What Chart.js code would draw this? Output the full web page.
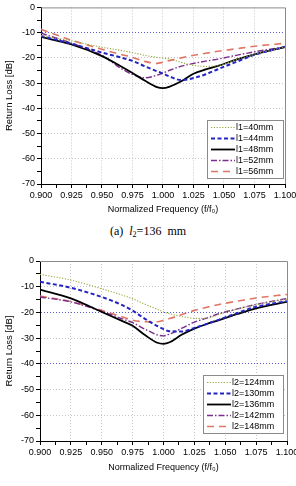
<!DOCTYPE html>
<html><head><meta charset="utf-8">
<script src="https://cdn.jsdelivr.net/npm/chart.js@4"></script>
<style>
html,body{margin:0;padding:0;background:#fff;width:296px;height:486px;overflow:hidden;position:relative;}
.wrap{position:absolute;left:0;width:310px;}
#w1{top:0;height:220px;}
#w2{top:248px;height:228px;}
.cap{position:absolute;left:0;width:296px;text-align:center;font-family:"Liberation Serif",serif;font-size:12px;line-height:14px;color:#000;white-space:pre;}
.cap sub{font-size:8px;vertical-align:-2px;line-height:0;}
</style></head><body>
<div class="wrap" id="w1"><canvas id="c1" width="310" height="220"></canvas></div>
<div class="cap" style="top:224px">(a)  <i>l</i><sub>2</sub>=136  mm</div>
<div class="wrap" id="w2"><canvas id="c2" width="310" height="228"></canvas></div>
<div class="cap" style="top:484px">(b)  <i>l</i><sub>1</sub>=48  mm</div>
<script>
// ---------- data ----------
const freq = [0.900,0.925,0.950,0.965,0.975,0.985,0.995,1.000,1.005,1.015,1.025,1.035,1.045,1.060,1.075,1.100];

const labelsA = ['l1=40mm','l1=44mm','l1=48mm','l1=52mm','l1=56mm'];
const a40 = [-11.2,-13.3,-15.8,-17.0,-17.9,-19.0,-19.8,-20.1,-20.4,-21.8,-23.0,-23.4,-23.1,-20.7,-18.6,-15.7];
const a44 = [-11.3,-14.4,-17.9,-19.8,-21.2,-23.3,-25.3,-26.2,-27.3,-28.8,-28.0,-26.5,-24.5,-21.6,-18.8,-15.6];
const a48 = [-11.7,-14.7,-19.3,-23.2,-26.0,-29.0,-31.6,-32.0,-31.5,-29.3,-26.3,-24.6,-23.2,-20.7,-18.6,-15.7];
const a52 = [-10.2,-14.2,-19.0,-24.0,-26.6,-27.9,-26.9,-26.0,-25.0,-23.3,-22.2,-21.3,-20.5,-19.0,-17.6,-15.7];
const a56 = [-8.7,-13.0,-16.6,-18.6,-19.8,-21.4,-22.2,-21.7,-21.1,-20.0,-19.0,-18.2,-17.4,-16.4,-15.4,-14.2];

const labelsB = ['l2=124mm','l2=130mm','l2=136mm','l2=142mm','l2=148mm'];
const b124 = [-5.2,-7.4,-10.8,-13.0,-14.7,-16.8,-18.8,-19.8,-20.5,-21.6,-22.3,-22.3,-20.7,-18.7,-17.0,-14.8];
const b130 = [-8.1,-10.4,-14.0,-16.8,-19.3,-22.5,-25.3,-26.5,-27.3,-27.4,-26.0,-24.5,-22.8,-20.2,-17.8,-15.6];
const b136 = [-11.1,-14.5,-19.8,-23.0,-25.2,-28.8,-31.8,-32.2,-31.6,-28.6,-26.3,-24.5,-23.0,-20.6,-18.4,-15.9];
const b142 = [-14.0,-15.9,-19.6,-22.2,-24.0,-26.5,-28.7,-29.1,-28.4,-26.1,-23.8,-22.2,-20.5,-18.6,-16.9,-14.6];
const b148 = [-13.6,-15.8,-19.2,-21.5,-23.0,-23.6,-23.6,-23.1,-22.4,-20.8,-19.2,-18.0,-16.9,-15.6,-14.4,-13.0];

const xTickLabels = ['0.900','0.925','0.950','0.975','1.000','1.025','1.050','1.075','1.100'];
const yTickLabels = ['-70','-60','-50','-40','-30','-20','-10','0'];
const refA = [-10];
const refB = [-20,-40];

// ---------- styles ----------
const styles = [
  {color:'#97a83e', dash:[1.2,1.6], width:1.1},
  {color:'#2424c4', dash:[4,2.5], width:2},
  {color:'#000000', dash:[], width:1.8},
  {color:'#7c2c8c', dash:[6,2,1.5,2], width:1.4},
  {color:'#e07666', dash:[7,5], width:1.6}
];
const FONT = '"Liberation Sans", Arial, sans-serif';

const xMajor = xTickLabels.map(Number);
const xAll = [];
xMajor.forEach((v,i)=>{ xAll.push(v); if(i<xMajor.length-1) xAll.push((v+xMajor[i+1])/2); });
const yMajor = yTickLabels.map(Number);
const yAll = [];
yMajor.forEach((v,i)=>{ yAll.push(v); if(i<yMajor.length-1) yAll.push((v+yMajor[i+1])/2); });

const framePlugin = {
  id:'frame',
  afterDraw(chart){
    const {ctx, chartArea:ca} = chart;
    ctx.save();
    ctx.strokeStyle='#8a8a8a'; ctx.lineWidth=1;
    ctx.beginPath();
    ctx.moveTo(ca.left, ca.top+0.5); ctx.lineTo(ca.right+0.5, ca.top+0.5); ctx.lineTo(ca.right+0.5, ca.bottom);
    ctx.stroke();
    ctx.restore();
  }
};
const boxLegend = {
  id:'boxLegend',
  afterDraw(chart, args, o){
    const {ctx, chartArea:ca} = chart;
    const x0 = Math.round(ca.right - o.dx - o.w), y0 = Math.round(ca.bottom - o.dy - o.h);
    ctx.save();
    ctx.fillStyle='#fff'; ctx.fillRect(x0,y0,o.w,o.h);
    ctx.strokeStyle='#8a8a8a'; ctx.lineWidth=1; ctx.strokeRect(x0+0.5,y0+0.5,o.w,o.h);
    ctx.font='9px '+FONT; ctx.textBaseline='middle'; ctx.textAlign='left';
    chart.data.datasets.forEach((ds,i)=>{
      const y = y0 + 7.5 + i*11;
      ctx.strokeStyle=ds.borderColor; ctx.lineWidth=ds.borderWidth; ctx.setLineDash(ds.borderDash||[]);
      ctx.beginPath(); ctx.moveTo(x0+4,y); ctx.lineTo(x0+28,y); ctx.stroke();
      ctx.setLineDash([]);
      ctx.fillStyle='#000';
      ctx.fillText(ds.label, x0+29, y);
    });
    ctx.restore();
  }
};

function makeChart(id, labels, series, cfg){
  const datasets = series.map((s,i)=>({
    label: labels[i],
    data: freq.map((f,j)=>({x:f, y:s[j]})),
    borderColor: styles[i].color,
    borderDash: styles[i].dash,
    borderWidth: styles[i].width,
    pointRadius: 0,
    fill: false,
    cubicInterpolationMode: 'monotone',
    tension: 0.4
  }));
  const isMajorX = v => xMajor.some(m=>Math.abs(m-v)<1e-9);
  const isMajorY = v => yMajor.some(m=>Math.abs(m-v)<1e-9);
  return new Chart(document.getElementById(id), {
    type:'line',
    data:{datasets},
    plugins:[framePlugin, boxLegend],
    options:{
      responsive:false, animation:false,
      layout:{padding:{left:0, top:cfg.top, right:cfg.right, bottom:0}},
      plugins:{legend:{display:false}, tooltip:{enabled:false},
        boxLegend:{w:cfg.lw, h:58, dx:cfg.ldx, dy:cfg.ldy}},
      scales:{
        x:{type:'linear', min:0.9, max:1.1,
          afterBuildTicks:s=>{ s.ticks = xAll.map(v=>({value:v})); },
          afterFit:s=>{ s.height = cfg.xh; },
          ticks:{autoSkip:false, maxRotation:0, minRotation:0, padding:2, color:'#000',
            font:{family:FONT, size:9},
            callback:(v)=>{ const k = xMajor.findIndex(m=>Math.abs(m-v)<1e-9); return k>=0 ? xTickLabels[k] : ''; }},
          grid:{
            color:c=>{ const v=c.tick?c.tick.value:null; if(v===null) return 'rgba(0,0,0,0)';
              if(!isMajorX(v) || Math.abs(v-0.9)<1e-9 || Math.abs(v-1.1)<1e-9) return 'rgba(0,0,0,0)'; return '#c4c4cc'; },
            tickColor:'#000', tickLength:4, lineWidth:1},
          border:{color:'#000', width:1, dash:[1,2]},
          title:{display:true, text:'Normalized Frequency (f/f\u2080)', color:'#000',
            font:{family:FONT, size:9}, padding:{top:0,bottom:cfg.tpb}}
        },
        y:{type:'linear', min:-70, max:0,
          afterBuildTicks:s=>{ s.ticks = yAll.map(v=>({value:v})); },
          afterFit:s=>{ s.width = cfg.yw; },
          ticks:{autoSkip:false, padding:2, color:'#000', font:{family:FONT, size:9},
            callback:(v)=>{ const k = yMajor.findIndex(m=>Math.abs(m-v)<1e-9); return k>=0 ? yTickLabels[k] : ''; }},
          grid:{
            color:c=>{ const v=c.tick?c.tick.value:null; if(v===null) return 'rgba(0,0,0,0)';
              if(cfg.ref.some(r=>Math.abs(r-v)<1e-9)) return '#5a5ad0';
              if(!isMajorY(v) || v===0 || v===-70) return 'rgba(0,0,0,0)'; return '#c4c4cc'; },
            tickColor:'#000', tickLength:4, lineWidth:1},
          border:{color:'#000', width:1, dash:[1,2]},
          title:{display:true, text:'Return Loss [dB]', color:'#000',
            font:{family:FONT, size:9.5}, padding:{top:4,bottom:0}}
        }
      }
    }
  });
}

makeChart('c1', labelsA, [a40,a44,a48,a52,a56], {top:7, right:25, yw:41, xh:36, tpb:5, ref:refA, lw:76, ldx:2, ldy:6});
makeChart('c2', labelsB, [b124,b130,b136,b142,b148], {top:13, right:23, yw:40, xh:35, tpb:3, ref:refB, lw:80, ldx:4, ldy:8});
</script>
</body></html>
